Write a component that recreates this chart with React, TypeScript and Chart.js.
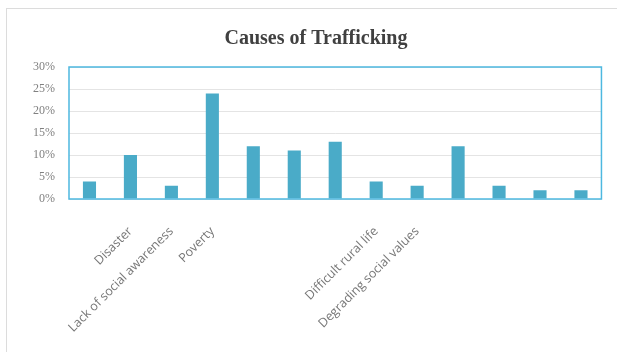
import React, { useEffect, useRef } from "react";
import Chart from "chart.js/auto";

const TITLE = "Causes of Trafficking";
const categories = [
  "",
  "Disaster",
  "Lack of social awareness",
  "Poverty",
  "",
  "",
  "",
  "Difficult rural life",
  "Degrading social values",
  "",
  "",
  "",
  "",
];
const values = [4, 10, 3, 24, 12, 11, 13, 4, 3, 12, 3, 2, 2];
const yTicks = [0, 5, 10, 15, 20, 25, 30];

const frameColor = "#4db8e0";
const barColor = "#4aabc8";

const framePlugin = {
  id: "frame",
  afterDatasetsDraw(chart: any) {
    const { ctx, chartArea } = chart;
    ctx.save();
    ctx.strokeStyle = frameColor;
    ctx.lineWidth = 1.5;
    ctx.strokeRect(chartArea.left, chartArea.top, chartArea.right - chartArea.left, chartArea.bottom - chartArea.top);
    ctx.restore();
  },
};

const titlePlugin = {
  id: "centerTitle",
  afterDraw(chart: any) {
    const { ctx, width } = chart;
    ctx.save();
    ctx.fillStyle = "#404040";
    ctx.font = "bold 20px 'Liberation Serif', serif";
    ctx.textAlign = "center";
    ctx.textBaseline = "middle";
    ctx.fillText(TITLE, width / 2 + 4, 30);
    ctx.restore();
  },
};

export default function App() {
  const ref = useRef<HTMLCanvasElement | null>(null);
  useEffect(() => {
    if (!ref.current) return;
    const chart = new Chart(ref.current, {
      type: "bar",
      data: {
        labels: categories,
        datasets: [
          {
            data: values,
            backgroundColor: barColor,
            borderWidth: 0,
            barPercentage: 0.32,
            categoryPercentage: 1,
          },
        ],
      },
      options: {
        animation: false,
        responsive: false,
        layout: { padding: { left: 0, right: 11, top: 58, bottom: 0 } },
        plugins: {
          legend: { display: false },
          tooltip: { enabled: false },
          title: { display: false },
        },
        scales: {
          x: {
            grid: { display: false, drawTicks: false },
            border: { display: false },
            ticks: {
              autoSkip: false,
              maxRotation: 45,
              minRotation: 45,
              padding: 25,
              color: "#777777",
              font: { family: "'Open Sans', sans-serif", size: 12.5 },
            },
            afterFit: (s: any) => {
              s.height = 153;
            },
          },
          y: {
            min: 0,
            max: 30,
            afterBuildTicks: (s: any) => {
              s.ticks = yTicks.map((v) => ({ value: v }));
            },
            grid: { color: "#e4e4e4", lineWidth: 1, drawTicks: false },
            border: { display: false },
            ticks: {
              padding: 14,
              color: "#808080",
              font: { family: "'Liberation Serif', serif", size: 12 },
              callback: (v: any) => `${v}%`,
            },
            afterFit: (s: any) => {
              s.width = 62;
            },
          },
        },
      },
      plugins: [framePlugin, titlePlugin],
    });
    return () => chart.destroy();
  }, []);
  return (
    <div
      style={{
        position: "absolute",
        left: 6,
        top: 8,
        width: 610,
        height: 343,
        borderLeft: "1px solid #dcdcdc",
        borderTop: "1px solid #dcdcdc",
        background: "#fff",
      }}
    >
      <canvas ref={ref} width={610} height={343} style={{ display: "block" }} />
    </div>
  );
}
